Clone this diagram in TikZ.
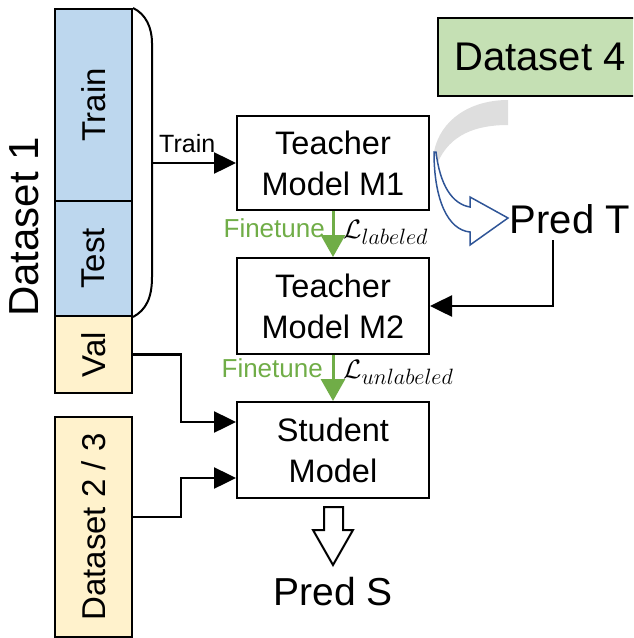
\documentclass[tikz,border=0pt]{standalone}
\usepackage{fontspec}
\setmainfont{Liberation Sans}
\usetikzlibrary{arrows.meta}

\definecolor{trainblue}{HTML}{BDD7EE}
\definecolor{valyellow}{HTML}{FFF2CC}
\definecolor{dsgreen}{HTML}{C5E0B4}
\definecolor{ftgreen}{HTML}{70AD47}
\definecolor{predblue}{HTML}{2F5597}
\definecolor{bandgray}{HTML}{DEDEDE}

\tikzset{
  fs/.style={font=\fontsize{#1}{#1}\selectfont},
  block/.style={draw, line width=2pt, inner sep=0pt, minimum width=192pt,
    align=center, font=\fontsize{32.5}{41}\selectfont},
  part/.style={draw, line width=2pt, inner sep=0pt, minimum width=77pt},
  vtext/.style={rotate=90, inner sep=0pt, font=\fontsize{33}{33}\selectfont},
  arr/.style={line width=2.5pt, -{Triangle[length=22pt,width=21pt]}},
  garr/.style={draw=ftgreen, line width=3pt, -{Triangle[length=22pt,width=24pt]}},
  plain/.style={inner sep=0pt},
  losslabel/.style={inner sep=0pt, anchor=base west, scale=1.07,
    font=\fontsize{24.88}{30}\selectfont},
}

\begin{document}
\begin{tikzpicture}[x=1pt,y=-1pt]
  \useasboundingbox (0,0) rectangle (633,638);
  \clip (0,0) rectangle (633,638);

  % Dataset 1 split into train / test / val
  \node[part, fill=trainblue, minimum height=192pt] (train) at (93.5,105) {};
  \node[part, fill=trainblue, minimum height=115pt] (test) at (93.5,258.5) {};
  \node[part, fill=valyellow, minimum height=77pt] (val) at (93.5,354.5) {};
  \node[vtext] at (train) {Train};
  \node[vtext] at (test) {Test};
  \node[vtext] at (val) {Val};
  \node[plain, rotate=90, fs=42] (d1label) at (24,227) {Dataset 1};

  % Dataset 2 / 3
  \node[part, fill=valyellow, minimum height=220pt] (ds23) at (93.5,527) {};
  \node[vtext] at (ds23) {Dataset 2 / 3};

  % Dataset 4
  \node[draw, line width=2pt, fill=dsgreen, minimum width=210pt, minimum height=78pt,
        inner sep=0pt] (ds4) at (543,57) {};
  \node[plain, fs=40] at (540,57) {Dataset 4};

  % Bracket grouping train and test
  \draw[line width=2pt] (train.north east) .. controls (146,14) and (152,28) .. (152,43)
    -- (152,277) .. controls (152,298) and (146,310) .. (test.south east);
  \coordinate (brace) at (152,163);

  % Models
  \node[block, minimum height=94pt] (t1) at (333,163) {Teacher\\Model M1};
  \node[block, minimum height=96pt] (t2) at (333,306) {Teacher\\Model M2};
  \node[block, minimum height=96pt] (student) at (333,450) {Student\\Model};

  % Predictions
  \node[plain, fs=40] (predT) at (570,219) {Pred T};
  \node[plain, fs=39] (predS) at (333,591.5) {Pred S};

  % Train arrow
  \draw[arr] (brace) -- (t1.west);
  \node[plain, fs=25, anchor=base west] at (159,152) {Train};

  % Finetuning arrows
  \draw[garr] (t1.south) -- (t2.north);
  \draw[garr] (t2.south) -- (student.north);
  \node[plain, fs=26, text=ftgreen, anchor=base east] at (325,237) {Finetune};
  \node[plain, fs=26, text=ftgreen, anchor=base east] at (323,377) {Finetune};
  \node[losslabel] at (343,238) {$\mathcal{L}_{labeled}$};
  \node[losslabel] at (343,378) {$\mathcal{L}_{unlabeled}$};

  % Pseudo labels fed back to teacher M2
  \coordinate (ptdrop) at (553,240);
  \draw[arr] (ptdrop) |- (t2.east);

  % Inputs of the student
  \draw[arr] (val.east) -- ++(48,0) |- ([yshift=28pt]student.west);
  \draw[arr] ([yshift=10pt]ds23.east) -- ++(48,0) |- ([yshift=-28pt]student.west);

  % Dataset 4 inference through teacher M1
  \fill[bandgray] (508,100) .. controls (470,100) and (440,120) .. (434,152)
    -- (438,162) .. controls (450,135) and (475,125) .. (508,125) -- cycle;
  \draw[predblue, line width=1.5pt, line join=miter]
    (434,152) .. controls (434,200) and (448,230) .. (470,232)
    -- (470,245) -- (508,218) -- (470,197) -- (470,207)
    .. controls (452,204) and (440,185) .. (436,152) -- cycle;

  % Student output arrow
  \draw[line width=2pt, line join=miter, fill=white]
    (324,507) -- (343,507) -- (343,530) -- (353,530) -- (333,565)
    -- (313,530) -- (324,530) -- cycle;
\end{tikzpicture}
\end{document}
